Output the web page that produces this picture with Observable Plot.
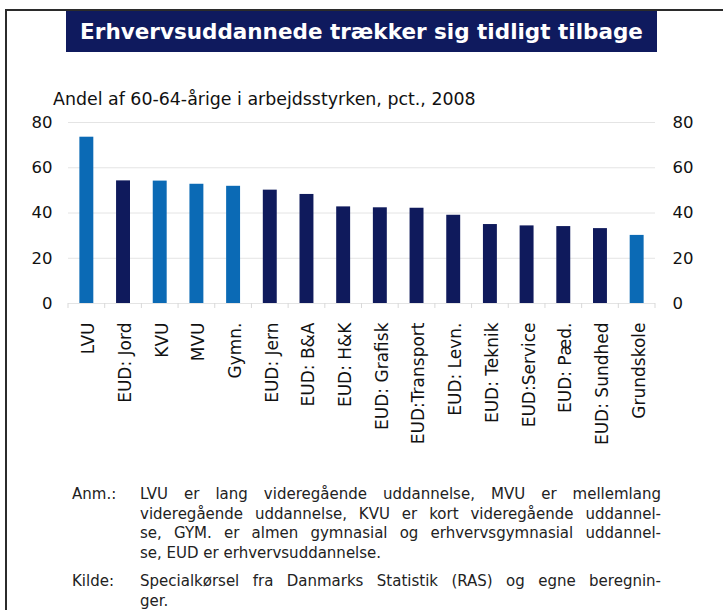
<!DOCTYPE html>
<html>
<head>
<meta charset="utf-8">
<script src="https://cdn.jsdelivr.net/npm/d3@7"></script>
<script src="https://cdn.jsdelivr.net/npm/@observablehq/plot@0.6"></script>
<style>
  html, body { margin: 0; padding: 0; background: #fff; }
  #page { position: relative; width: 723px; height: 610px; overflow: hidden; }
  #frameTop { position: absolute; left: 5px; top: 9px; width: 718px; height: 2px; background: #2b2b2b; }
  #frameLeft { position: absolute; left: 5px; top: 9px; width: 2px; height: 601px; background: #2b2b2b; }
  #title { position: absolute; left: 66px; top: 11px; width: 591px; height: 41px; background: #0f1a5e;
           color: #fff; font-family: "DejaVu Sans", sans-serif; font-weight: bold; font-size: 21.5px;
           display: flex; align-items: center; justify-content: center; white-space: nowrap; }
  #subtitle { position: absolute; left: 53px; top: 89px; font-family: "DejaVu Sans", sans-serif; font-size: 17.4px; color: #111; white-space: nowrap; }
  #chart { position: absolute; left: 0; top: 110px; }
  #notes { position: absolute; left: 72px; top: 485px; width: 589px; font-family: "DejaVu Sans", sans-serif; font-size: 15px; color: #222; line-height: 19.5px; }
  .para { display: flex; }
  .para + .para { margin-top: 9px; }
  .lab { width: 68px; flex: none; }
  .body { flex: 1; }
  .ln { text-align: justify; text-align-last: justify; white-space: nowrap; }
  .ln.last { text-align-last: left; }
</style>
</head>
<body>
<div id="page">
  <div id="frameTop"></div>
  <div id="frameLeft"></div>
  <div id="title">Erhvervsuddannede trækker sig tidligt tilbage</div>
  <div id="subtitle">Andel af 60-64-årige i arbejdsstyrken, pct., 2008</div>
  <div id="chart"></div>
  <div id="notes"></div>
</div>
<script>
const categories = ["LVU", "EUD: Jord", "KVU", "MVU", "Gymn.", "EUD: Jern", "EUD: B&A", "EUD: H&K",
  "EUD: Grafisk", "EUD:Transport", "EUD: Levn.", "EUD: Teknik", "EUD:Service", "EUD: Pæd.", "EUD: Sundhed", "Grundskole"];
const values = [73.5, 54.2, 54.1, 52.7, 51.8, 50.1, 48.2, 42.7, 42.3, 42.1, 39.0, 34.9, 34.3, 34.0, 33.1, 30.1];
const groups = ["other", "eud", "other", "other", "other", "eud", "eud", "eud",
  "eud", "eud", "eud", "eud", "eud", "eud", "eud", "other"];
const yTicks = [0, 20, 40, 60, 80];

const noteLabels = ["Anm.:", "Kilde:"];
const noteLines = [
  ["LVU er lang videregående uddannelse, MVU er mellemlang",
   "videregående uddannelse, KVU er kort videregående uddannel-",
   "se, GYM. er almen gymnasial og erhvervsgymnasial uddannel-",
   "se, EUD er erhvervsuddannelse."],
  ["Specialkørsel fra Danmarks Statistik (RAS) og egne beregnin-",
   "ger."]
];

const data = categories.map((c, i) => ({cat: c, value: values[i], group: groups[i]}));

// boundary tick marks between categories, drawn from the band scale
function boundaryTicks(index, scales, values, dimensions) {
  const x = scales.x, y = scales.y;
  const step = x(categories[1]) - x(categories[0]);
  const bw = x.bandwidth ? x.bandwidth() : step * 0.38;
  const g = d3.create("svg:g");
  const y0 = y(0);
  const xs = categories.map(c => x(c) + bw / 2 - step / 2);
  xs.push(x(categories[categories.length - 1]) + bw / 2 + step / 2);
  for (const xx of xs) {
    g.append("line").attr("x1", xx).attr("x2", xx).attr("y1", y0).attr("y2", y0 + 5)
      .attr("stroke", "#d9d9d9").attr("stroke-width", 1);
  }
  return g.node();
}

const chart = Plot.plot({
  width: 723,
  height: 350,
  marginTop: 12,
  marginBottom: 157,
  marginLeft: 68,
  marginRight: 68,
  style: {fontFamily: "DejaVu Sans, sans-serif", fontSize: "17px", color: "#111", background: "transparent"},
  x: {domain: categories, paddingInner: 0.62, paddingOuter: 0.31, round: false, label: null},
  y: {domain: [0, 80], label: null},
  color: {domain: ["other", "eud"], range: ["#0b6ab5", "#0f1a5c"]},
  marks: [
    Plot.gridY(yTicks, {stroke: "#e4e4e4", strokeOpacity: 1}),
    Plot.barY(data, {x: "cat", y: "value", fill: "group"}),
    boundaryTicks,
    Plot.axisY(yTicks, {anchor: "left", tickSize: 0, tickPadding: 16, label: null, fontSize: 16.5}),
    Plot.axisY(yTicks, {anchor: "right", tickSize: 0, tickPadding: 17, label: null, fontSize: 16.5}),
    Plot.axisX({tickSize: 0, tickPadding: 19, tickRotate: -90, label: null, fontSize: 17, dx: 2})
  ]
});
document.getElementById("chart").appendChild(chart);

const notes = document.getElementById("notes");
noteLabels.forEach((lab, i) => {
  const p = document.createElement("div"); p.className = "para";
  const l = document.createElement("div"); l.className = "lab"; l.textContent = lab;
  const b = document.createElement("div"); b.className = "body";
  noteLines[i].forEach((t, j) => {
    const d = document.createElement("div");
    d.className = "ln" + (j === noteLines[i].length - 1 ? " last" : "");
    d.textContent = t;
    b.appendChild(d);
  });
  p.appendChild(l); p.appendChild(b);
  notes.appendChild(p);
});
</script>
</body>
</html>
